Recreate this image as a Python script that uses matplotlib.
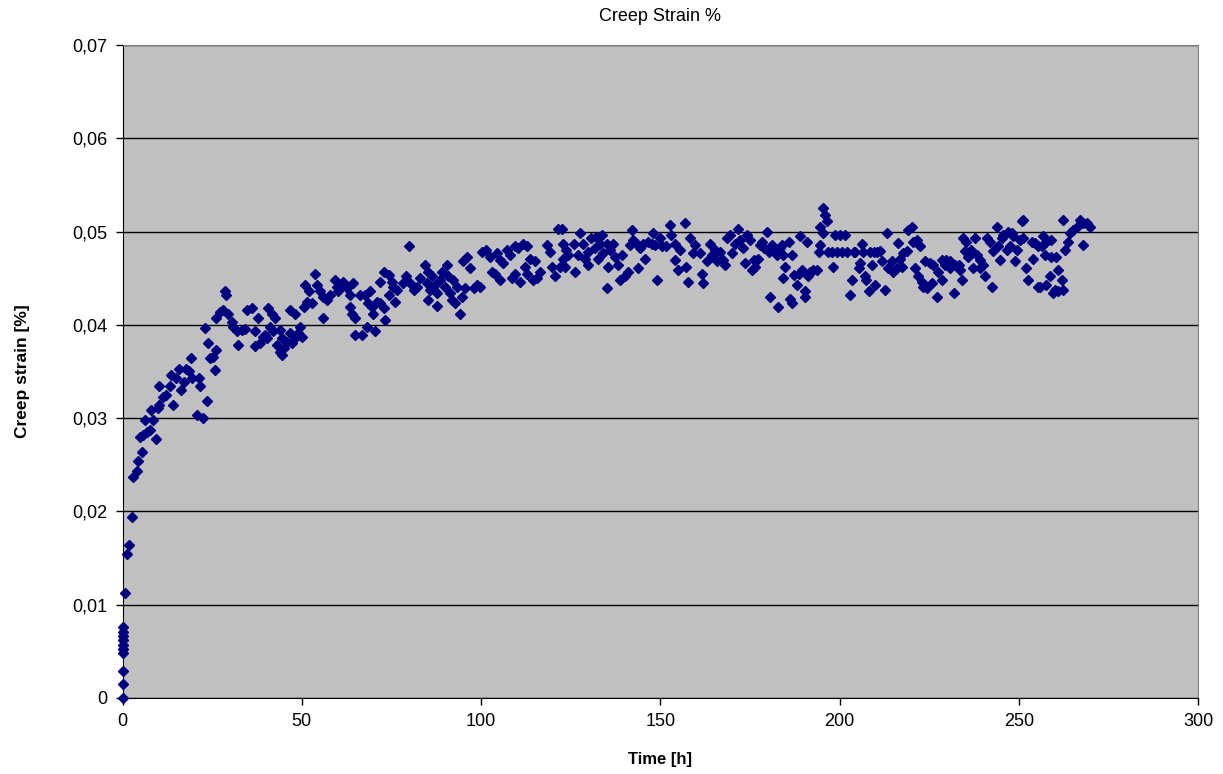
import matplotlib
matplotlib.use("Agg")
import matplotlib.pyplot as plt
from matplotlib.ticker import FuncFormatter, MultipleLocator

# creep test readings: time since loading [h] and creep strain [%]
hours = [
    # loading / primary creep
    0.0, 0.0, 0.0, 0.2, 0.2, 0.2, 0.2, 0.2, 0.2, 0.2, 0.7, 1.3, 1.8, 2.5,
    2.9, 3.9, 4.4, 5.3, 4.8, 5.7, 6.7, 7.6, 6.2, 9.4, 8.0, 8.5, 9.9, 10.3,
    10.3, 11.2, 12.2, 14.0, 13.5, 13.1, 14.9, 15.8, 16.3, 17.2, 17.7, 18.6,
    19.0, 19.5, 21.2, 21.6, 20.7, 22.5, 23.5, 23.0, 23.9, 24.4, 26.2, 25.3,
    25.8, 26.2, 27.2, 28.1, 28.6, 28.8, 29.5, 30.4, 30.9, 32.3, 31.8, 33.2,
    34.2, 34.7,
    # 33 - 76 h
    36.1, 37.9, 37.0, 37.0, 38.3, 39.7, 40.6, 41.7, 42.6, 41.1, 42.1, 40.2,
    39.3, 43.0, 43.9, 44.4, 44.9, 43.9, 44.4, 45.8, 46.7, 47.2, 48.1, 49.0,
    49.6, 50.0, 46.7, 48.1, 50.5, 51.4, 52.8, 50.9, 51.9, 53.7, 54.2, 55.1,
    56.0, 56.0, 57.0, 57.9, 59.3, 59.8, 60.2, 61.2, 61.6, 62.5, 63.4, 64.4,
    63.4, 63.9, 64.9, 64.9, 66.7, 68.1, 70.4, 66.3, 67.6, 69.0, 68.6, 69.5,
    69.9, 70.9, 71.9, 72.8, 73.3, 71.9, 72.8, 74.2, 75.1, 75.5, 76.5, 74.2,
    76.0,
    # 76 - 120 h
    79.8, 79.2, 78.3, 80.2, 81.2, 82.1, 83.0, 84.4, 85.3, 84.8, 86.2, 85.8,
    87.2, 87.7, 85.3, 87.7, 88.6, 89.1, 90.4, 90.9, 90.0, 91.4, 92.3, 93.2,
    91.8, 92.7, 94.1, 94.7, 95.6, 95.1, 96.0, 97.0, 97.9, 98.8, 99.7, 100.2,
    101.5, 102.6, 103.0, 103.9, 104.4, 105.3, 106.2, 105.3, 107.1, 108.1,
    109.4, 110.4, 111.8, 112.7, 108.5, 109.4, 110.9, 112.3, 112.7, 113.7,
    115.0, 114.6, 115.5, 116.4, 118.3, 119.3, 119.7, 120.6, 121.5,
    # 120 - 164 h
    122.5, 122.9, 123.8, 122.9, 122.0, 123.4, 124.3, 125.8, 126.2, 127.6,
    127.1, 128.5, 129.0, 129.9, 129.9, 130.8, 131.7, 132.2, 133.2, 133.7,
    132.7, 134.1, 135.0, 136.0, 135.5, 135.0, 136.9, 137.3, 138.2, 139.2,
    138.7, 140.2, 141.1, 142.0, 142.5, 141.6, 143.4, 143.9, 144.3, 145.2,
    145.7, 146.6, 147.6, 148.1, 148.5, 149.0, 149.9, 150.4, 151.7, 152.7,
    153.1, 154.0, 154.0, 154.9, 155.5, 156.9, 157.3, 157.8, 158.3, 159.2,
    159.6, 161.0, 161.5, 161.9, 162.9, 163.9, 164.3, 165.2, 165.7,
    # 164 - 208 h
    166.7, 167.6, 168.1, 168.5, 169.5, 169.9, 170.9, 171.8, 172.3, 173.2,
    173.7, 174.1, 175.1, 175.5, 176.0, 176.4, 177.3, 177.9, 178.4, 178.8,
    179.7, 180.2, 180.7, 181.1, 181.6, 182.5, 182.9, 183.4, 183.9, 184.3,
    184.8, 184.3, 185.8, 186.3, 186.7, 186.7, 187.2, 188.1, 188.6, 189.0,
    189.5, 190.4, 190.4, 190.8, 191.3, 191.8, 192.7, 193.7, 194.2, 194.6,
    194.6, 195.5, 196.0, 196.4, 195.5, 196.9, 197.8, 198.3, 198.7, 199.2,
    200.1, 200.7, 201.6, 202.0, 203.4, 203.0, 203.9, 204.3, 205.3, 205.7,
    206.2, 206.6, 207.1, 207.5, 208.1, 208.6, 209.0, 209.5, 209.9, 210.4,
    # 208 - 252 h
    211.3, 211.8, 212.7, 213.1, 213.6, 214.5, 215.0, 216.4, 216.0, 216.9,
    217.4, 217.8, 218.7, 219.2, 220.1, 220.6, 221.0, 221.5, 222.4, 221.9,
    222.9, 223.9, 223.4, 224.3, 225.3, 226.2, 225.7, 227.1, 227.5, 228.5,
    228.5, 229.4, 229.8, 230.9, 230.9, 231.8, 232.2, 233.2, 233.6, 234.1,
    234.5, 235.0, 235.4, 235.9, 236.8, 237.3, 237.7, 238.3, 239.2, 239.2,
    240.1, 240.6, 241.0, 242.0, 242.4, 242.9, 243.8, 244.3, 244.7, 245.2,
    245.6, 246.6, 247.1, 247.6, 248.0, 248.5, 248.9, 249.4, 250.3, 250.8,
    251.2, 251.2, 252.1, 252.6, 253.6, 254.1, 254.5, 255.4, 255.4,
    # 252 h - end
    256.8, 257.7, 259.1, 256.4, 257.3, 259.1, 260.5, 262.9, 263.8, 264.3,
    265.2, 266.1, 267.0, 267.9, 268.9, 269.9, 267.9, 262.4, 260.9, 258.7,
    257.7, 260.0, 262.0, 262.4, 260.9, 259.6, 255.9,
]

strain = [
    # loading / primary creep
    0.0, 0.0015, 0.0029, 0.0048, 0.0053, 0.0057, 0.0062, 0.0066, 0.0071, 0.0076,
    0.0113, 0.0154, 0.0164, 0.0194,
    0.0237, 0.0243, 0.0254, 0.0264, 0.0280, 0.0282, 0.0285, 0.0287, 0.0298,
    0.0278, 0.0309, 0.0298, 0.0311, 0.0314, 0.0334, 0.0323, 0.0325, 0.0314,
    0.0346, 0.0334, 0.0343, 0.0353, 0.0330, 0.0339, 0.0353, 0.0350, 0.0364,
    0.0343, 0.0343, 0.0334, 0.0303, 0.0300, 0.0318, 0.0397, 0.0380, 0.0364,
    0.0373, 0.0366, 0.0352, 0.0407, 0.0414, 0.0416, 0.0436, 0.0432, 0.0412,
    0.0403, 0.0398, 0.0378, 0.0393, 0.0394, 0.0396, 0.0416,
    # 33 - 76 h
    0.0418, 0.0407, 0.0393, 0.0377, 0.0380, 0.0389, 0.0418, 0.0412, 0.0407,
    0.0398, 0.0393, 0.0386, 0.0387, 0.0378, 0.0371, 0.0368, 0.0375, 0.0394,
    0.0386, 0.0382, 0.0391, 0.0380, 0.0386, 0.0391, 0.0398, 0.0387, 0.0416,
    0.0412, 0.0419, 0.0425, 0.0423, 0.0443, 0.0436, 0.0455, 0.0443, 0.0436,
    0.0430, 0.0407, 0.0427, 0.0432, 0.0448, 0.0441, 0.0436, 0.0443, 0.0446,
    0.0439, 0.0432, 0.0445, 0.0419, 0.0412, 0.0407, 0.0389, 0.0389, 0.0398,
    0.0393, 0.0432, 0.0432, 0.0436, 0.0423, 0.0419, 0.0412, 0.0425, 0.0423,
    0.0418, 0.0405, 0.0446, 0.0457, 0.0453, 0.0446, 0.0441, 0.0437, 0.0432,
    0.0425,
    # 76 - 120 h
    0.0484, 0.0452, 0.0445, 0.0445, 0.0437, 0.0441, 0.0450, 0.0464, 0.0457,
    0.0445, 0.0452, 0.0437, 0.0443, 0.0434, 0.0427, 0.0420, 0.0448, 0.0457,
    0.0464, 0.0452, 0.0441, 0.0434, 0.0448, 0.0441, 0.0427, 0.0423, 0.0412,
    0.0430, 0.0439, 0.0468, 0.0473, 0.0461, 0.0439, 0.0443, 0.0441, 0.0478,
    0.0480, 0.0473, 0.0457, 0.0454, 0.0477, 0.0470, 0.0466, 0.0448, 0.0480,
    0.0475, 0.0484, 0.0482, 0.0487, 0.0484, 0.0450, 0.0454, 0.0446, 0.0462,
    0.0454, 0.0471, 0.0468, 0.0448, 0.0450, 0.0457, 0.0486, 0.0478, 0.0462,
    0.0452, 0.0503,
    # 120 - 164 h
    0.0503, 0.0487, 0.0480, 0.0471, 0.0462, 0.0462, 0.0475, 0.0487, 0.0457,
    0.0498, 0.0475, 0.0487, 0.0471, 0.0478, 0.0464, 0.0493, 0.0482, 0.0494,
    0.0487, 0.0496, 0.0471, 0.0477, 0.0487, 0.0480, 0.0462, 0.0439, 0.0487,
    0.0473, 0.0464, 0.0475, 0.0448, 0.0452, 0.0457, 0.0502, 0.0491, 0.0486,
    0.0487, 0.0461, 0.0482, 0.0487, 0.0471, 0.0489, 0.0487, 0.0498, 0.0486,
    0.0448, 0.0493, 0.0484, 0.0484, 0.0507, 0.0496, 0.0487, 0.0469, 0.0459,
    0.0480, 0.0509, 0.0462, 0.0446, 0.0493, 0.0477, 0.0486, 0.0477, 0.0455,
    0.0445, 0.0468, 0.0487, 0.0475, 0.0480, 0.0468,
    # 164 - 208 h
    0.0478, 0.0469, 0.0464, 0.0493, 0.0496, 0.0477, 0.0487, 0.0503, 0.0491,
    0.0482, 0.0466, 0.0496, 0.0491, 0.0459, 0.0469, 0.0462, 0.0471, 0.0486,
    0.0489, 0.0482, 0.0500, 0.0478, 0.0430, 0.0486, 0.0480, 0.0475, 0.0419,
    0.0482, 0.0486, 0.0475, 0.0462, 0.0450, 0.0489, 0.0428, 0.0423, 0.0475,
    0.0453, 0.0443, 0.0455, 0.0495, 0.0459, 0.0430, 0.0436, 0.0489, 0.0452,
    0.0457, 0.0459, 0.0459, 0.0478, 0.0486, 0.0505, 0.0525, 0.0518, 0.0511,
    0.0498, 0.0478, 0.0478, 0.0462, 0.0496, 0.0478, 0.0496, 0.0478, 0.0496,
    0.0478, 0.0448, 0.0432, 0.0478, 0.0478, 0.0461, 0.0466, 0.0487, 0.0478,
    0.0452, 0.0448, 0.0436, 0.0478, 0.0464, 0.0478, 0.0443, 0.0478,
    # 208 - 252 h
    0.0479, 0.0468, 0.0437, 0.0498, 0.0461, 0.0468, 0.0457, 0.0488, 0.0461,
    0.0471, 0.0462, 0.0477, 0.0479, 0.0502, 0.0505, 0.0489, 0.0461, 0.0491,
    0.0484, 0.0452, 0.0446, 0.0468, 0.0441, 0.0439, 0.0466, 0.0464, 0.0445,
    0.0430, 0.0457, 0.0470, 0.0448, 0.0464, 0.0470, 0.0468, 0.0461, 0.0434,
    0.0464, 0.0464, 0.0459, 0.0448, 0.0493, 0.0479, 0.0489, 0.0473, 0.0480,
    0.0461, 0.0493, 0.0475, 0.0470, 0.0461, 0.0464, 0.0452, 0.0493, 0.0489,
    0.0441, 0.0479, 0.0505, 0.0484, 0.0470, 0.0493, 0.0496, 0.0480, 0.0500,
    0.0484, 0.0498, 0.0495, 0.0468, 0.0480, 0.0491, 0.0511, 0.0512, 0.0493,
    0.0461, 0.0448, 0.0489, 0.0471, 0.0488, 0.0441, 0.0484,
    # 252 h - end
    0.0495, 0.0489, 0.0491, 0.0484, 0.0475, 0.0473, 0.0473, 0.0480, 0.0489,
    0.0498, 0.0502, 0.0505, 0.0512, 0.0509, 0.0509, 0.0505, 0.0486, 0.0512,
    0.0459, 0.0452, 0.0443, 0.0437, 0.0448, 0.0437, 0.0436, 0.0434, 0.0441,
]

plt.rcParams['font.family'] = ['Liberation Sans', 'DejaVu Sans']

fig = plt.figure(figsize=(12.23, 7.74), dpi=100)
ax = fig.add_axes([0.1002, 0.0982, 0.8794, 0.8437])
ax.set_facecolor('#c0c0c0')

ax.plot(hours, strain, linestyle='none', marker='D', markersize=5,
        color='#000080', markeredgecolor='#000080', zorder=3, clip_on=False)

ax.set_xlim(0, 300)
ax.set_ylim(0, 0.07)
ax.xaxis.set_major_locator(MultipleLocator(50))
ax.yaxis.set_major_locator(MultipleLocator(0.01))
ax.yaxis.set_major_formatter(FuncFormatter(
    lambda v, pos: '0' if abs(v) < 1e-9 else f'{v:.2f}'.replace('.', ',')))

ax.grid(axis='y', color='black', linewidth=1)
ax.set_axisbelow(True)

for side in ['left', 'bottom']:
    ax.spines[side].set_color('black')
for side in ['top', 'right']:
    ax.spines[side].set_color('#808080')

ax.tick_params(axis='both', direction='out', length=5, width=1, labelsize=13,
               colors='black')
ax.tick_params(axis='y', pad=6)
ax.tick_params(axis='x', pad=6)

ax.set_title('Creep Strain %', fontsize=13, pad=17)
ax.set_xlabel('Time [h]', fontsize=12, fontweight='bold', labelpad=16)
ax.set_ylabel('Creep strain [%]', fontsize=12.5, fontweight='bold', labelpad=30)

fig.savefig('out.png', dpi=100)
